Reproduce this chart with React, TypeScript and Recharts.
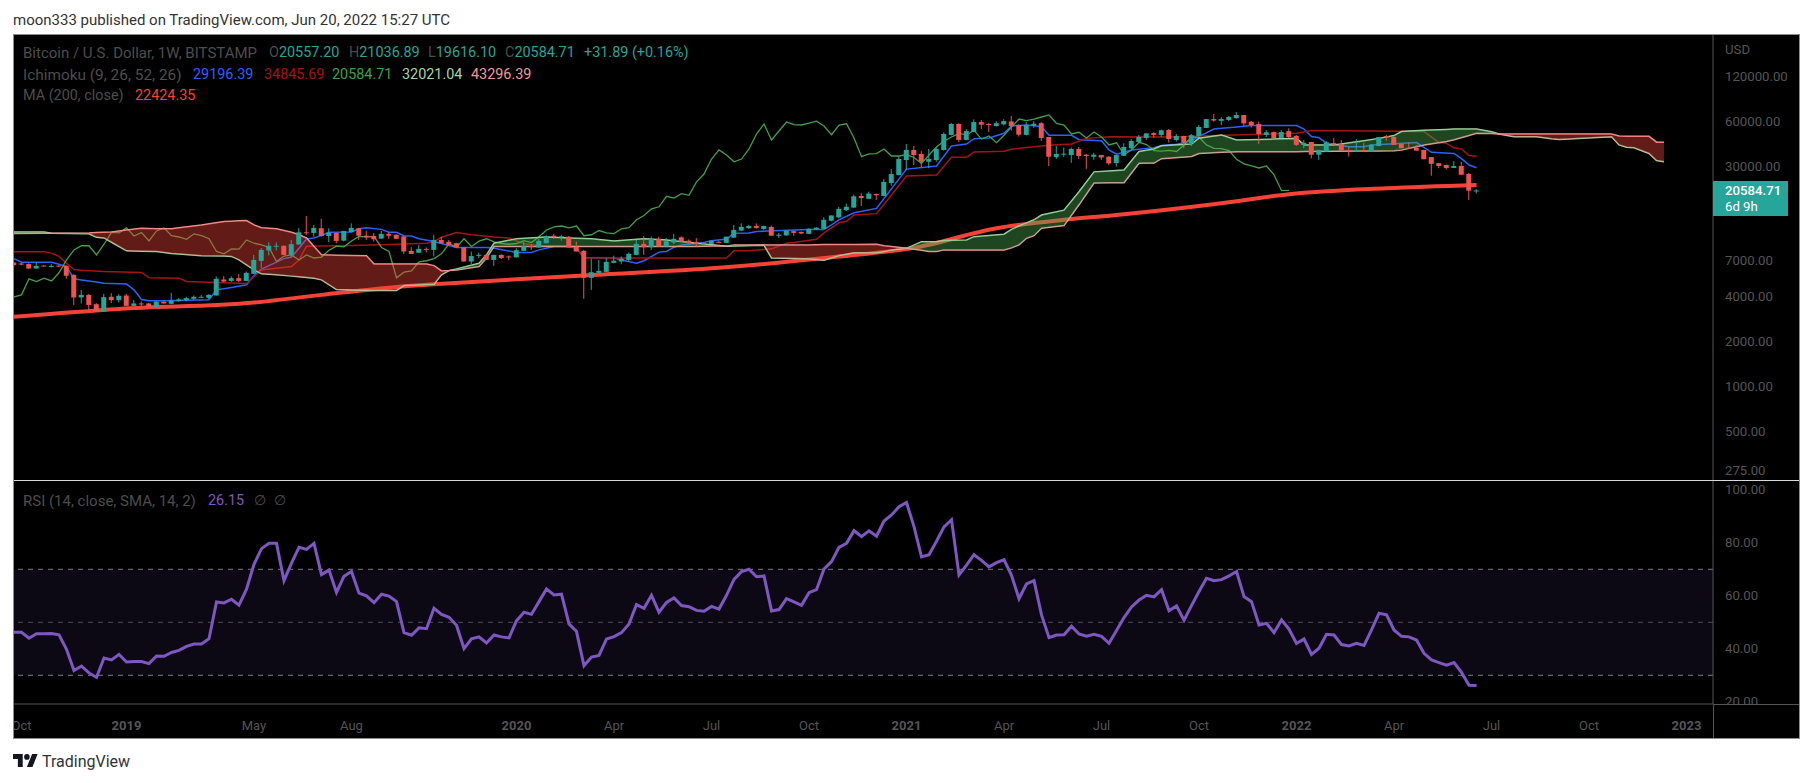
import React from "react";
import {
  Area,
  Bar,
  ComposedChart,
  Line,
  ReferenceArea,
  ReferenceLine,
  XAxis,
  YAxis,
} from "recharts";

const FONT = "Roboto, sans-serif";
const UP = "#26a69a";
const DOWN = "#ef5350";
const AXIS_TEXT = "#555555";
const LEGEND_TEXT = "#4d4d4d";

// weekly candles
const opens = [
  6780, 6680, 6640, 6180, 6470, 6380, 6470, 6440, 5610, 3960, 4120, 3570, 3190, 4000, 3800, 4080, 3480, 3610, 3610, 3395,
  3710, 3590, 3740, 3800, 3880, 3960, 3940, 4080, 5220, 5110, 5330, 5110, 5700, 6960, 8170, 8700, 8780, 7630, 8950, 10800,
  10700, 11500, 10200, 10700, 9500, 10850, 11500, 10250, 10200, 9800, 10550, 10400, 10150, 8120, 7880, 8370, 8240, 9600, 9330, 9130,
  8590, 6890, 7530, 7630, 7060, 7630, 7450, 7340, 8120, 8720, 8550, 9130, 10250, 10100, 10100, 8640, 8120, 5360, 5790, 5870,
  6750, 6890, 7060, 7630, 9040, 8590, 9780, 8680, 9230, 10000, 9500, 9270, 9180, 9040, 9330, 9180, 9950, 11100, 11500, 11900,
  11380, 11740, 10300, 10300, 11000, 10870, 10550, 11300, 11400, 12900, 13600, 15200, 15800, 18900, 18100, 19500, 18900, 23100, 26100, 32900,
  38400, 36100, 32000, 32900, 38400, 48400, 57300, 44800, 50700, 59000, 57300, 55500, 57000, 59600, 56400, 48400, 55800, 58000, 46900, 34400,
  35700, 35500, 39000, 35700, 34600, 35500, 34600, 31400, 35100, 39400, 43400, 46200, 49800, 48400, 52200, 44800, 47600, 42600, 47500, 53900,
  61800, 60100, 60900, 62700, 65800, 59300, 57200, 48400, 50600, 46200, 51300, 47700, 41500, 43400, 35700, 37500, 42700, 42100, 38400, 37500,
  38400, 37500, 40800, 47600, 46900, 42100, 39800, 39800, 38400, 34400, 31300, 30470, 29100, 30000, 26500, 20557.2,
];
const highs = [
  6890, 6750, 6700, 6820, 6540, 6610, 6500, 6500, 5650, 4450, 4190, 3630, 4190, 4230, 4170, 4190, 3820, 3725, 3650, 3760,
  3720, 4250, 3920, 4000, 4080, 4120, 4170, 5470, 5500, 5470, 5700, 5900, 7630, 8470, 9270, 9230, 8800, 9600, 11500, 13900,
  12100, 13300, 11500, 10800, 11050, 12400, 11550, 11030, 10700, 11030, 10800, 10450, 10200, 8590, 8900, 8550, 10400, 10100, 9600, 9200,
  8600, 8040, 7880, 7680, 7650, 7700, 7560, 8460, 9380, 8990, 9740, 10300, 10550, 10400, 10200, 9380, 8250, 7200, 7060, 7270,
  7530, 7450, 7920, 9600, 10200, 10100, 10100, 9900, 10550, 10150, 9680, 9900, 9300, 9550, 9460, 10100, 12100, 12400, 12100, 12400,
  11980, 11980, 10700, 11100, 11150, 10950, 11500, 11700, 13600, 14000, 16000, 16800, 19300, 19700, 20200, 19600, 24500, 28600, 35000, 42100,
  40800, 37700, 39000, 40200, 50300, 58300, 58000, 53000, 61500, 60900, 58300, 59900, 61700, 64800, 57000, 59000, 59900, 59000, 47000, 40800,
  39900, 39900, 40200, 36100, 36800, 35600, 35000, 35600, 42600, 45300, 48400, 49800, 50500, 52500, 53000, 49100, 47800, 49100, 56400, 62000,
  66800, 63800, 64800, 69000, 66000, 60100, 59300, 52200, 51000, 52200, 53600, 48400, 44800, 43500, 38500, 44000, 46200, 44800, 40300, 45400,
  42800, 42100, 46900, 48400, 47800, 42800, 43400, 41500, 38500, 34500, 31400, 30600, 32400, 32000, 27000, 21036.89,
];
const lows = [
  6375, 6500, 6180, 6180, 6380, 6280, 6350, 5280, 3530, 3610, 3255, 3190, 3190, 3630, 3670, 3480, 3480, 3445, 3430, 3395,
  3600, 3570, 3710, 3725, 3820, 3940, 3860, 4080, 5010, 5030, 5010, 5100, 5700, 6240, 7560, 8170, 7630, 7450, 8950, 10400,
  10100, 10100, 9270, 9130, 9380, 10800, 9600, 9600, 9380, 9780, 9780, 9780, 7750, 7750, 7880, 7920, 7450, 9130, 8770, 8550,
  6890, 6610, 7270, 7060, 6440, 7160, 7030, 7340, 8120, 8240, 8550, 9100, 9740, 9500, 8550, 8040, 3880, 4450, 5760, 5870,
  6700, 6610, 6890, 7600, 7630, 8240, 8680, 8680, 8990, 9330, 9090, 8680, 9050, 9040, 9200, 9180, 9950, 11000, 11400, 11400,
  11200, 10250, 9900, 10250, 10250, 10500, 10500, 11200, 11400, 12800, 13400, 15000, 15800, 16200, 18000, 17800, 18800, 22100, 26000, 28200,
  30470, 29300, 29000, 32000, 38000, 48000, 43400, 44500, 50500, 53000, 50700, 55000, 56000, 51700, 47200, 48000, 54000, 44100, 30000, 33400,
  34400, 31500, 33400, 28700, 33000, 32900, 30500, 29700, 35000, 39000, 43000, 44800, 46400, 46900, 43000, 43700, 39400, 40800, 47500, 53800,
  59300, 56400, 60000, 62000, 55600, 54200, 42100, 46900, 46200, 45800, 46000, 40800, 39400, 33800, 32900, 37400, 41600, 38000, 34700, 37300,
  37400, 37400, 40700, 44300, 41500, 39300, 39200, 38000, 33300, 25800, 29000, 28400, 29100, 26200, 17800, 19616.1,
];
const closes = [
  6510, 6570, 6180, 6440, 6410, 6440, 6410, 5530, 3960, 4120, 3530, 3190, 3980, 3800, 4060, 3480, 3610, 3570, 3430, 3710,
  3610, 3780, 3840, 3920, 4000, 4000, 4120, 5280, 5060, 5330, 5110, 5790, 7060, 8240, 8780, 8780, 7630, 8990, 10800, 10700,
  11560, 10200, 10750, 9460, 11030, 11560, 10250, 10050, 9700, 10550, 10250, 9780, 8040, 7750, 8370, 8330, 9600, 9130, 8900, 8550,
  6890, 7490, 7630, 7060, 7630, 7270, 7380, 8200, 8720, 8640, 9460, 10150, 10050, 10150, 8550, 8040, 5360, 5840, 5960, 6850,
  6970, 7200, 7750, 9040, 8590, 9780, 8680, 9420, 9780, 9330, 9090, 8990, 9090, 9500, 9230, 10100, 11200, 11750, 11900, 11560,
  11900, 10250, 10400, 11100, 10700, 10600, 11400, 11600, 13100, 14000, 15500, 16000, 18800, 18300, 19600, 19100, 23500, 26500, 33400, 38400,
  35500, 32000, 33400, 39000, 49100, 57300, 44800, 51400, 59000, 56700, 56400, 58000, 59900, 55500, 48600, 56400, 57500, 46200, 34600, 36100,
  36300, 39000, 35000, 35000, 35700, 34200, 31200, 35500, 40200, 44100, 46900, 49600, 48400, 52000, 45400, 47600, 43000, 48200, 54700, 61800,
  60400, 61800, 63800, 65800, 57800, 56400, 49100, 50400, 46200, 50600, 46900, 41500, 42900, 35700, 38400, 43200, 41700, 38000, 37700, 38200,
  37500, 41500, 46900, 46700, 41500, 39400, 39200, 38000, 33300, 31000, 30000, 29100, 30000, 26200, 20500, 20584.71,
];

// lagging span, sits 25 weeks behind price
const chikou = [
  4000, 4120, 5280, 5060, 5330, 5110, 5790, 7060, 8240, 8780, 8780, 7630, 8990, 10800, 10700, 11560, 10200, 10750, 9460, 11030,
  11560, 10250, 10050, 9700, 10550, 10250, 9780, 8040, 7750, 8370, 8330, 9600, 9130, 8900, 8550, 6890, 7490, 7630, 7060, 7630,
  7270, 7380, 8200, 8720, 8640, 9460, 10150, 10050, 10150, 8550, 8040, 5360, 5840, 5960, 6850, 6970, 7200, 7750, 9040, 8590,
  9780, 8680, 9420, 9780, 9330, 9090, 8990, 9090, 9500, 9230, 10100, 11200, 11750, 11900, 11560, 11900, 10250, 10400, 11100, 10700,
  10600, 11400, 11600, 13100, 14000, 15500, 16000, 18800, 18300, 19600, 19100, 23500, 26500, 33400, 38400, 35500, 32000, 33400, 39000, 49100,
  57300, 44800, 51400, 59000, 56700, 56400, 58000, 59900, 55500, 48600, 56400, 57500, 46200, 34600, 36100, 36300, 39000, 35000, 35000, 35700,
  34200, 31200, 35500, 40200, 44100, 46900, 49600, 48400, 52000, 45400, 47600, 43000, 48200, 54700, 61800, 60400, 61800, 63800, 65800, 57800,
  56400, 49100, 50400, 46200, 50600, 46900, 41500, 42900, 35700, 38400, 43200, 41700, 38000, 37700, 38200, 37500, 41500, 46900, 46700, 41500,
  39400, 39200, 38000, 33300, 31000, 30000, 29100, 30000, 26200, 20500, 20584.71,
];

// [week, value] at the corners of each line
const tenkan = [
  [0, 7200], [1, 6820], [5, 6820], [6, 6610], [7, 6375], [8, 5280], [9, 5190], [11, 5030], [12, 4930], [15, 4880], [16, 4450], [17, 3840], [18, 3760], [20, 3760], [26, 3820], [27, 4450], [29, 4620], [31, 4810], [32, 5550], [33, 6120],
  [35, 6820], [36, 7200], [37, 7380], [38, 8460], [39, 9740], [40, 9900], [41, 10300], [42, 10800], [45, 10850], [46, 11400], [47, 11600], [49, 11300], [50, 10800], [51, 10800], [52, 10250], [53, 10200], [54, 9780], [56, 9380], [58, 8810], [59, 8550],
  [63, 8550], [64, 8460], [67, 7920], [69, 7920], [70, 8240], [72, 8680], [74, 8680], [75, 8460], [76, 7340], [80, 7270], [81, 7060], [83, 6710], [84, 6970], [86, 7960], [87, 8040], [88, 8590], [89, 8900], [90, 8990], [91, 9130], [92, 9230],
  [93, 9500], [95, 9740], [96, 10650], [98, 10700], [99, 10950], [104, 11200], [106, 11300], [108, 11300], [109, 12100], [110, 13100], [112, 14600], [115, 15600], [119, 28600], [123, 30000], [125, 40800], [127, 42100], [128, 45700], [130, 46200], [132, 49700], [133, 55500],
  [135, 56400], [136, 55800], [137, 55000], [138, 48100], [141, 48100], [142, 45000], [145, 44300], [146, 38400], [147, 36000], [149, 38400], [152, 39800], [153, 41100], [155, 42000], [157, 44100], [158, 47300], [160, 53000], [161, 53600], [163, 54700], [165, 55900], [171, 55900],
  [172, 53000], [173, 47300], [174, 46400], [175, 42600], [178, 40300], [180, 40300], [181, 41500], [187, 43000], [189, 37000], [192, 36400], [193, 33600], [194, 30470], [195, 29196.39],
];
const kijun = [
  [0, 8000], [4, 8000], [5, 7840], [6, 7450], [7, 6710], [8, 6090], [9, 6020], [12, 5900], [17, 5820], [18, 5360], [22, 5330], [23, 5060], [31, 4910], [32, 5470], [33, 6050], [35, 6210], [37, 6375], [38, 7060], [39, 8720], [45, 8810],
  [50, 8950], [55, 9130], [56, 9380], [57, 10000], [59, 10750], [61, 10400], [64, 10050], [66, 9900], [68, 9040], [70, 8810], [74, 8720], [75, 8460], [76, 7270], [95, 7270], [96, 8120], [98, 8120], [100, 8280], [101, 8370], [103, 9130], [104, 9220],
  [107, 9700], [108, 10700], [110, 12500], [111, 12800], [112, 14100], [115, 14400], [117, 19200], [119, 25700], [123, 26100], [125, 34300], [127, 34300], [128, 37200], [132, 37700], [133, 38800], [135, 39900], [138, 41300], [141, 42100], [143, 45900], [146, 47100], [155, 46900],
  [160, 47900], [171, 49600], [173, 51800], [185, 51300], [188, 51000], [190, 43000], [191, 42500], [192, 39700], [193, 39000], [194, 35200], [195, 34845.69],
];
const ma200 = [
  [0, 2940], [14, 3320], [32, 3660], [41, 4120], [51, 4660], [56, 4850], [76, 5560], [94, 6260], [110, 7440], [120, 8500], [131, 11500], [140, 13100], [147, 14100], [161, 16900], [170, 19400], [183, 21300], [195, 22424.35],
];

// [week, span A, span B]
const cloud = [
  [0, 10850, 10600], [4, 10850, 10650], [5, 10650, 10650], [10, 10550, 10700], [11, 10000, 10750], [12, 9900, 10800], [13, 9270, 10850], [15, 8120, 11200], [17, 8080, 11500], [19, 8040, 11400],
  [21, 7800, 11400], [22, 7720, 11600], [25, 7530, 12100], [28, 7490, 12750], [29, 7450, 12830], [30, 7060, 12900], [31, 6540, 12950], [32, 6050, 12100], [33, 5700, 11600], [35, 5610, 11400],
  [37, 5500, 10800], [38, 5440, 10400], [39, 5390, 9900], [40, 5330, 8680], [41, 5190, 7630], [43, 4470, 7600], [47, 4430, 7530], [48, 4410, 6640], [51, 4410, 6640], [52, 4760, 6640],
  [55, 4835, 6640], [56, 4860, 6470], [57, 5610, 5960], [58, 5990, 5990], [59, 6150, 6050], [62, 6710, 6375], [63, 7630, 7270], [64, 9130, 8680], [67, 9780, 8680], [71, 10050, 8680],
  [74, 9900, 8680], [77, 9780, 8680], [80, 9460, 8680], [84, 9780, 8680], [87, 9600, 8680], [91, 9130, 8680], [94, 8810, 8770], [95, 8720, 8720], [96, 8750, 8900], [100, 8850, 8900],
  [101, 7280, 8900], [106, 7200, 8900], [108, 7020, 8950], [110, 7560, 8950], [112, 7890, 8950], [115, 7890, 8980], [116, 8050, 8770], [117, 8240, 8690], [119, 8440, 8440], [121, 9350, 8200],
  [122, 9350, 8030], [123, 9350, 8030], [124, 9530, 8240], [127, 9600, 8240], [128, 10100, 8240], [132, 10500, 8240], [133, 11300, 8500], [134, 11900, 8900], [135, 12500, 9850], [136, 13100, 10250],
  [137, 14100, 11500], [140, 15200, 11980], [142, 20200, 16500], [144, 27400, 23100], [146, 27800, 23200], [148, 28200, 23200], [150, 37500, 31300], [152, 39000, 31400], [153, 40900, 33600], [157, 42100, 34700],
  [158, 46000, 36400], [161, 48400, 37100], [163, 44800, 37300], [168, 45400, 37300], [171, 45900, 37400], [172, 41500, 37500], [176, 41500, 37700], [180, 44300, 37800], [182, 45900, 37800], [184, 47900, 37900],
  [185, 51000, 38300], [188, 52000, 41500], [191, 52700, 43700], [192, 53000, 45000], [194, 53000, 48000], [195, 53100, 49700], [197, 50900, 49500], [198, 49100, 49100], [200, 47000, 49100], [203, 47000, 49100],
  [205, 45700, 49100], [206, 45200, 49100], [213, 47000, 49100], [214, 41500, 47600], [215, 40000, 47500], [216, 39700, 47500], [218, 36400, 47400], [219, 32600, 43300], [220, 32021.04, 43296.39],
];
// stretches between the weeks where the two spans cross
const cloudRuns = [[0, 5], [5, 58], [58, 95], [95, 119], [119, 198], [198, 220]];

const rsi = [
  46.2, 46.2, 44, 45.7, 45.7, 45.8, 45.3, 39.8, 31.8, 33.5, 30.9, 29.2, 36.5, 35.8, 37.9, 35, 35.2, 35.2, 34.4, 37.3,
  37.2, 38.6, 39.4, 40.9, 41.8, 41.8, 43.8, 57.7, 57.3, 58.7, 56.5, 62.5, 71.9, 77.8, 79.8, 79.8, 65.7, 72.3, 78.3, 77.5,
  79.8, 68, 69.7, 61.3, 67.4, 69.2, 61, 60, 57.4, 60.6, 59.9, 57.8, 46.1, 45.1, 47.9, 47.6, 55.3, 53, 51.9, 48.9,
  40.1, 43.8, 44.5, 42.2, 45.2, 44.5, 44.1, 50.6, 53.8, 53, 57.8, 62.6, 60.3, 60.6, 49.4, 46.5, 33.6, 36.9, 37.5, 43.7,
  44.6, 46.1, 49.4, 56.7, 55.3, 60.2, 53.8, 57.5, 59.2, 56.3, 55.9, 54.5, 54.2, 56, 55, 60.2, 66.2, 69.1, 70, 67.2,
  67.5, 54.3, 54.8, 58.9, 57.7, 56.4, 61.2, 62.3, 70.1, 72.9, 78.3, 79.8, 84.6, 82.3, 84.5, 82.5, 88.2, 90.5, 93.6, 95.2,
  86.1, 74.7, 75.5, 80.6, 86, 88.7, 67.9, 71.6, 75.5, 73.4, 70.9, 72.5, 73.6, 67.7, 58.9, 64.5, 65.7, 52.8, 44.2, 45.2,
  45.3, 48.5, 45.6, 44.8, 45.5, 44.7, 42.1, 46.9, 51.8, 55.8, 58.4, 60.2, 59.6, 62.3, 54.4, 56.2, 50.8, 56.3, 61.6, 66.6,
  65.7, 66.1, 67.5, 69.2, 59.7, 57.8, 49, 49.6, 46.1, 50.9, 47.4, 42, 43.7, 37.9, 40.2, 45.5, 45.2, 41.6, 41.1, 42.1,
  41.3, 47.1, 53.4, 52.8, 47.1, 44.7, 44.5, 43.3, 38.3, 35.8, 34.8, 33.8, 34.8, 31.1, 26.2, 26.15,
];

const priceTicks = [120000, 60000, 30000, 7000, 4000, 2000, 1000, 500, 275];
const rsiTicks = [100, 80, 60, 40, 20];
const timeTicks = [1, 15, 32, 45, 67, 80, 93, 106, 119, 132, 145, 158, 171, 184, 197, 210, 223];
const timeLabels = ["Oct", "2019", "May", "Aug", "2020", "Apr", "Jul", "Oct", "2021", "Apr", "Jul", "Oct", "2022", "Apr", "Jul", "Oct", "2023"];

const candleData = closes.map((close, i) => ({ i, open: opens[i], high: highs[i], low: lows[i], close }));
const rsiData = rsi.map((v, i) => ({ i, v }));
const chikouData = chikou.map((v, i) => ({ i, v }));
const points = (pairs: number[][]) => pairs.map(([i, v]) => ({ i, v }));
const cloudData = cloud.map(([i, a, b]) => ({ i, a, b }));

function Candle(props: any) {
  const { x, y, width, height, payload } = props;
  const { open, high, low, close } = payload;
  const span = Math.log(high / low) || 1;
  const at = (v: number) => y + (height * Math.log(high / v)) / span;
  const top = at(Math.max(open, close));
  const bottom = at(Math.min(open, close));
  const color = close >= open ? UP : DOWN;
  return (
    <g>
      <rect x={x + width / 2 - 0.5} y={y} width={1} height={height} fill={color} />
      <rect x={x} y={top} width={width} height={Math.max(bottom - top, 1)} fill={color} />
    </g>
  );
}

function TimeTick(props: any) {
  const { x, y, payload } = props;
  const label = timeLabels[timeTicks.indexOf(payload.value)];
  const isYear = label.length === 4;
  return (
    <text x={x} y={y + 18} textAnchor="middle" fontFamily={FONT} fontSize={13} fontWeight={isYear ? 700 : 400} fill={AXIS_TEXT}>
      {label}
    </text>
  );
}

function Label({ x, y, color = LEGEND_TEXT, bold, size = 14.4, children }: any) {
  return (
    <span style={{ position: "absolute", left: x, top: y - 8, lineHeight: "16px", fontSize: size, color, fontWeight: bold ? 500 : 400, whiteSpace: "nowrap" }}>
      {children}
    </span>
  );
}

const xDomain = [0, 226.53];
const lineProps: any = { dot: false, isAnimationActive: false, zIndex: 400 };

export default function App() {
  return (
    <div style={{ position: "absolute", left: 0, top: 0, width: 1813, height: 783, background: "#fff", overflow: "hidden", fontFamily: FONT }}>
      <span style={{ position: "absolute", left: 13, top: 11, lineHeight: "18px", fontSize: 15, color: "#333", whiteSpace: "nowrap" }}>
        moon333 published on TradingView.com, Jun 20, 2022 15:27 UTC
      </span>

      <div style={{ position: "absolute", left: 14, top: 35, width: 1785, height: 703, background: "#000", overflow: "hidden" }}>
        <div style={{ position: "absolute", left: 0, top: 0 }}>
          <ComposedChart width={1785} height={445} data={candleData} margin={{ top: 0, right: 0, bottom: 0, left: 0 }}>
            <XAxis dataKey="i" type="number" domain={xDomain} allowDataOverflow hide />
            <YAxis
              orientation="right"
              width={86}
              scale="log"
              domain={[238, 225600]}
              allowDataOverflow
              ticks={priceTicks}
              interval={0}
              tickFormatter={(v) => Number(v).toFixed(2)}
              tick={{ fill: AXIS_TEXT, fontSize: 13.2, fontFamily: FONT, textAnchor: "start" }}
              tickLine={false}
              tickSize={0}
              tickMargin={12}
              axisLine={{ stroke: "#555" }}
            />
            <Line {...lineProps} data={points(ma200)} dataKey="v" type="monotone" stroke="#f44336" strokeWidth={4} />
            <Line {...lineProps} data={points(tenkan)} dataKey="v" stroke="#2962ff" strokeWidth={1.5} />
            <Line {...lineProps} data={points(kijun)} dataKey="v" stroke="#a31515" strokeWidth={1.5} />
            <Line {...lineProps} data={chikouData} dataKey="v" stroke="#43a047" strokeWidth={1.3} />
            <Line {...lineProps} data={cloudData} dataKey="a" stroke="#a5d6a7" strokeWidth={1.5} />
            <Line {...lineProps} data={cloudData} dataKey="b" stroke="#ef9a9a" strokeWidth={1.5} />
            {cloudRuns.map(([from, to]) => {
              const rows = cloudData.filter((d) => d.i >= from && d.i <= to);
              const isUp = rows[Math.floor(rows.length / 2)].a > rows[Math.floor(rows.length / 2)].b;
              const areaProps: any = { zIndex: 500 };
              return (
                <Area
                  {...areaProps}
                  key={from}
                  data={rows}
                  dataKey={(d: any) => [Math.min(d.a, d.b), Math.max(d.a, d.b)]}
                  fill={isUp ? "#4caf50" : "#f44336"}
                  fillOpacity={0.4}
                  stroke="none"
                  dot={false}
                  activeDot={false}
                  isAnimationActive={false}
                />
              );
            })}
            <Bar {...({ zIndex: 600 } as any)} dataKey={(d: any) => [d.low, d.high]} barSize={5} shape={<Candle />} isAnimationActive={false} />
          </ComposedChart>
        </div>

        <div style={{ position: "absolute", left: 0, top: 445 }}>
          <ComposedChart width={1785} height={258} data={rsiData} margin={{ top: 0, right: 0, bottom: 0, left: 0 }}>
            <XAxis
              dataKey="i"
              type="number"
              domain={xDomain}
              allowDataOverflow
              ticks={timeTicks}
              interval={0}
              height={34}
              tick={<TimeTick />}
              tickLine={false}
              axisLine={{ stroke: "#555" }}
            />
            <YAxis
              orientation="right"
              width={86}
              domain={[19.17, 103.7]}
              allowDataOverflow
              ticks={rsiTicks}
              interval={0}
              tickFormatter={(v) => Number(v).toFixed(2)}
              tick={{ fill: AXIS_TEXT, fontSize: 13.2, fontFamily: FONT, textAnchor: "start" }}
              tickLine={false}
              tickSize={0}
              tickMargin={12}
              axisLine={{ stroke: "#555" }}
            />
            <ReferenceArea y1={30} y2={70} fill="#7e57c2" fillOpacity={0.1} stroke="none" />
            <ReferenceLine y={70} stroke="#787b86" strokeDasharray="5 5" />
            <ReferenceLine y={50} stroke="#787b86" strokeOpacity={0.6} strokeDasharray="5 5" />
            <ReferenceLine y={30} stroke="#787b86" strokeDasharray="5 5" />
            <Line dataKey="v" stroke="#7e57c2" strokeWidth={3} dot={false} isAnimationActive={false} />
          </ComposedChart>
        </div>
      </div>

      {/* frame, pane divider, price badge */}
      <div style={{ position: "absolute", left: 1714, top: 705, width: 85, height: 33, background: "#000" }} />
      <div style={{ position: "absolute", left: 1713, top: 704, width: 1, height: 34, background: "#555" }} />
      <div style={{ position: "absolute", left: 1713, top: 704, width: 86, height: 1, background: "#555" }} />
      <div style={{ position: "absolute", left: 13, top: 480, width: 1786, height: 1, background: "#d8d8d8" }} />
      <div style={{ position: "absolute", left: 13, top: 34, width: 1785, height: 703, border: "1px solid #8c8c8c" }} />
      <div style={{ position: "absolute", left: 1713, top: 181, width: 75, height: 35, background: UP }} />
      <Label x={1725} y={191} color="#fff" bold size={13.2}>20584.71</Label>
      <Label x={1725} y={207} color="#fff" size={13.2}>6d 9h</Label>
      <Label x={1725} y={50} color={AXIS_TEXT} size={13.2}>USD</Label>

      <Label x={23} y={53} size={15}>Bitcoin / U.S. Dollar, 1W, BITSTAMP</Label>
      <Label x={269} y={53}>O<span style={{ color: UP }}>20557.20</span></Label>
      <Label x={349} y={53}>H<span style={{ color: UP }}>21036.89</span></Label>
      <Label x={428} y={53}>L<span style={{ color: UP }}>19616.10</span></Label>
      <Label x={505} y={53}>C<span style={{ color: UP }}>20584.71</span></Label>
      <Label x={584} y={53} color={UP}>+31.89 (+0.16%)</Label>

      <Label x={23} y={75} size={15.4}>Ichimoku (9, 26, 52, 26)</Label>
      <Label x={193} y={75} color="#2962ff">29196.39</Label>
      <Label x={264} y={75} color="#a31515">34845.69</Label>
      <Label x={332} y={75} color="#43a047">20584.71</Label>
      <Label x={402} y={75} color="#a5d6a7">32021.04</Label>
      <Label x={471} y={75} color="#ef9a9a">43296.39</Label>

      <Label x={23} y={96}>MA (200, close)</Label>
      <Label x={135} y={96} color="#f44336">22424.35</Label>

      <Label x={23} y={501} size={15}>RSI (14, close, SMA, 14, 2)</Label>
      <Label x={208} y={501} color="#7e57c2">26.15</Label>
      <Label x={254} y={501}>∅</Label>
      <Label x={274} y={501}>∅</Label>

      <svg style={{ position: "absolute", left: 13, top: 754 }} width={25} height={13} viewBox="0 4 36 18" preserveAspectRatio="none">
        <path d="M14 22H7V11H0V4h14v18zM28 22h-8l7.5-18h8L28 22z" fill="#131722" />
        <circle cx={20} cy={8} r={4} fill="#131722" />
      </svg>
      <span style={{ position: "absolute", left: 42, top: 752, lineHeight: "20px", fontSize: 16, color: "#333", whiteSpace: "nowrap" }}>TradingView</span>
    </div>
  );
}
